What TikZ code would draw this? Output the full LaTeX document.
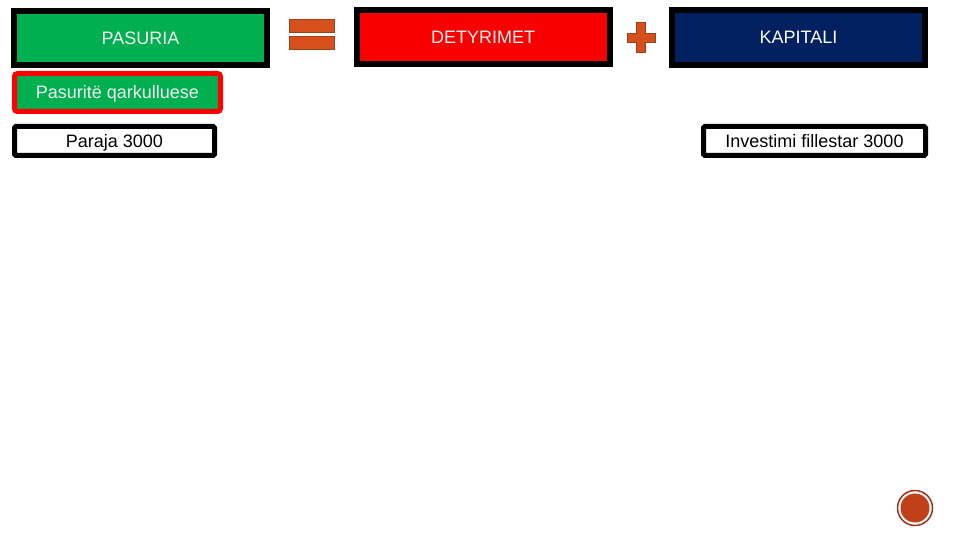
\documentclass[tikz,border=0pt]{standalone}
\usepackage{fontspec}
\setmainfont{Liberation Sans}
\definecolor{pgreen}{HTML}{00B050}
\definecolor{pred}{HTML}{F80000}
\definecolor{pnavy}{HTML}{002060}
\definecolor{porange}{HTML}{D6501E}
\definecolor{pbord}{HTML}{A0401A}
\definecolor{pcirc}{HTML}{C0401A}
\definecolor{pring}{HTML}{A0301A}
\definecolor{ptxt}{HTML}{F4F0F0}
\tikzset{
  txt/.style={font=\fontsize{18}{21}\selectfont, text height=13pt, text depth=0pt},
  bigbox/.style={txt, draw=black, line width=6pt, inner sep=0pt, minimum width=253pt, minimum height=54pt, text=ptxt},
  valbox/.style={txt, draw=black, line width=5pt, fill=white, rounded corners=1.5pt, inner sep=0pt, minimum height=29pt},
  subbox/.style={txt, draw=red, line width=5pt, fill=pgreen, rounded corners=3pt, inner sep=0pt, minimum width=206pt, minimum height=38pt, text=ptxt},
  sym/.style={fill=porange, draw=pbord, line width=1pt}
}
\begin{document}
\begin{tikzpicture}[x=1pt,y=-1pt]
\useasboundingbox (0,0) rectangle (960,540);
\node[bigbox, fill=pgreen] (pas) at (140.5,38) {PASURIA};
\node[bigbox, fill=pred] (det) at (483,37.5) {DETYRIMET};
\node[bigbox, fill=pnavy, text=white, minimum height=55pt] (kap) at (798.5,37.5) {KAPITALI};
\node[subbox] (pq) at (117.5,92.5) {Pasuritë qarkulluese};
\node[valbox, minimum width=200pt] (par) at (114.5,141) {Paraja 3000};
\node[valbox, minimum width=222pt] (inv) at (814.5,141) {Investimi fillestar 3000};
% equals sign
\draw[sym] (289,20) rectangle (334,33);
\draw[sym] (289,37) rectangle (334,50);
% plus sign
\draw[sym] (636.5,23) -- (645.5,23) -- (645.5,33.5) -- (655,33.5) -- (655,42.5) -- (645.5,42.5) -- (645.5,53) -- (636.5,53) -- (636.5,42.5) -- (627,42.5) -- (627,33.5) -- (636.5,33.5) -- cycle;
% page marker
\draw[pring, line width=1.5pt] (915,508) circle (17.5);
\fill[pcirc] (915,508) circle (14.5);
\end{tikzpicture}
\end{document}
